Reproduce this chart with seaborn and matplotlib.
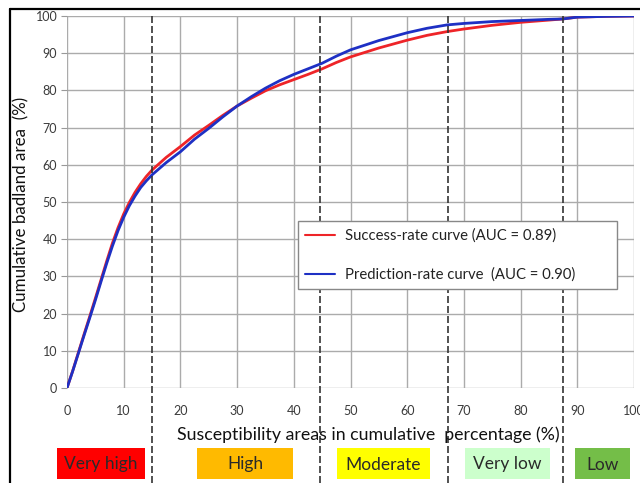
import numpy as np
import pandas as pd
import matplotlib
matplotlib.use("Agg")
import matplotlib.pyplot as plt
from matplotlib.patches import Rectangle
from matplotlib.lines import Line2D
import seaborn as sns

# ---------------- data ----------------
area_pct = [0, 1, 2, 3, 4, 5, 6, 7, 8, 9, 10, 11, 12, 13, 14, 15, 17.5, 20, 22.5, 25, 27.5, 30,
            32.5, 35, 37.5, 40, 42.5, 45, 47.5, 50, 55, 60, 63.5, 67, 70, 75, 80, 85, 87.4, 90, 95, 100]
success_rate = [0, 4.6, 9.5, 14.4, 19.2, 24.1, 29.1, 34.1, 38.9, 43.1, 46.8, 49.9, 52.6, 54.9, 56.9, 58.6, 62.0,
                64.9, 68.0, 70.6, 73.3, 75.8, 77.9, 79.9, 81.5, 82.9, 84.3, 85.8, 87.5, 89.0, 91.4, 93.5,
                94.8, 95.8, 96.5, 97.5, 98.3, 98.9, 99.2, 99.7, 99.9, 100]
prediction_rate = [0, 4.5, 9.3, 14.1, 18.8, 23.6, 28.6, 33.5, 38.1, 42.3, 45.9, 49.0, 51.6, 53.9, 55.7, 57.3, 60.6,
                   63.5, 66.9, 69.8, 72.9, 75.8, 78.3, 80.6, 82.6, 84.3, 85.8, 87.3, 89.2, 90.9, 93.4, 95.5,
                   96.7, 97.6, 98.0, 98.5, 98.8, 99.1, 99.2, 99.7, 99.9, 100]
series_names = ["Success-rate curve (AUC = 0.89)", "Prediction-rate curve  (AUC = 0.90)"]
series_colors = ["#EE2428", "#1E30C4"]
class_breaks = [15, 44.6, 67.2, 87.4]
class_labels = ["Very high", "High", "Moderate", "Very low", "Low"]
class_colors = ["#FF0000", "#FFBA00", "#FFFF00", "#CCFFCC", "#74BE48"]
x_ticks = [0, 10, 20, 30, 40, 50, 60, 70, 80, 90, 100]
y_ticks = [0, 10, 20, 30, 40, 50, 60, 70, 80, 90, 100]
x_title = "Susceptibility areas in cumulative  percentage (%)"
y_title = "Cumulative badland area  (%)"

df = pd.DataFrame({
    "x": area_pct * 2,
    "y": success_rate + prediction_rate,
    "series": [series_names[0]] * len(area_pct) + [series_names[1]] * len(area_pct),
})

# ---------------- style ----------------
sns.set_style("white")
plt.rcParams["font.family"] = ["Lato", "DejaVu Sans"]

W, H = 640, 483
fig = plt.figure(figsize=(W / 100, H / 100), dpi=100)
fig.patch.set_facecolor("white")

ax_l, ax_r, ax_t, ax_b = 67, 634, 16, 388
ax = fig.add_axes([ax_l / W, 1 - ax_b / H, (ax_r - ax_l) / W, (ax_b - ax_t) / H])

sns.lineplot(data=df, x="x", y="y", hue="series", palette=series_colors,
             linewidth=2.0, ax=ax, legend=False, zorder=5)
for ln in ax.get_lines():
    ln.set_solid_joinstyle("round")

ax.set_xlim(0, 100)
ax.set_ylim(0, 100)
ax.set_xticks(x_ticks)
ax.set_yticks(y_ticks)
ax.grid(True, color="#ABABAB", linewidth=1.0)
ax.set_axisbelow(True)
for s in ax.spines.values():
    s.set_visible(False)
ax.tick_params(axis="y", length=4, color="#999999", width=0.8, labelsize=9,
               labelcolor="#3A3A3A", pad=3, left=True)
ax.tick_params(axis="x", length=0, labelsize=9, labelcolor="#3A3A3A", pad=12)
ax.set_xlabel("")
ax.set_ylabel("")

fig.text(368 / W, 1 - 435 / H, x_title, ha="center", va="center", fontsize=12.8, color="#111111")
fig.text(21 / W, 1 - 204 / H, y_title, ha="center", va="center", rotation=90,
         fontsize=12.2, color="#111111")

# dashed class boundaries reaching down to figure bottom
ymin_frac = -(H - ax_b) / (ax_b - ax_t)
for xb in class_breaks:
    ax.axvline(xb, ymin=ymin_frac, ymax=1, clip_on=False, color="#333333",
               linewidth=1.2, linestyle=(0, (4.2, 1.8)), zorder=6)

# legend
handles = [Line2D([0], [0], color=c, linewidth=1.5) for c in series_colors]
leg = ax.legend(handles, series_names, loc="upper left",
                bbox_to_anchor=((298 - ax_l) / (ax_r - ax_l), 1 - (225 - ax_t) / (ax_b - ax_t),
                                (617 - 298) / (ax_r - ax_l), 0.01),
                mode="expand", borderaxespad=0, fontsize=10.7, frameon=True,
                fancybox=False, edgecolor="#888888", framealpha=1,
                handlelength=2.0, handletextpad=0.67, labelspacing=1.66, borderpad=0.5)
leg.get_frame().set_linewidth(1.0)
leg.set_zorder(10)
for t in leg.get_texts():
    t.set_color("#222222")

# class boxes under the axis
box_px = [(57, 145), (197, 293), (337, 430), (465, 550), (575, 630)]
box_top, box_bot = 448, 479
for (x0, x1), lab, col in zip(box_px, class_labels, class_colors):
    fig.add_artist(Rectangle((x0 / W, 1 - box_bot / H), (x1 - x0) / W, (box_bot - box_top) / H,
                             transform=fig.transFigure, facecolor=col, edgecolor="none"))
    fig.text((x0 + x1) / 2 / W, 1 - (box_top + box_bot + 2) / 2 / H, lab, ha="center", va="center",
             fontsize=12.5, color="#2A2A2A")

# figure border (top and left)
fig.add_artist(Line2D([10 / W, 1], [1 - 9 / H, 1 - 9 / H], transform=fig.transFigure,
                      color="black", linewidth=1.6))
fig.add_artist(Line2D([10 / W, 10 / W], [0, 1 - 9 / H], transform=fig.transFigure,
                      color="black", linewidth=1.6))

fig.savefig("out.png", dpi=100, facecolor="white")
